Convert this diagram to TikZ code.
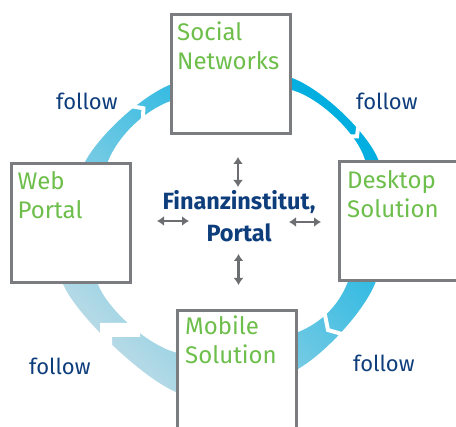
\documentclass[tikz,border=0pt]{standalone}
\usepackage{fontspec}
\setmainfont{Fira Sans}
\usetikzlibrary{arrows.meta}
\definecolor{boxgray}{HTML}{7A7C80}
\definecolor{lblgreen}{HTML}{6DBE4B}
\definecolor{navy}{HTML}{0E3D7C}
\definecolor{ringdark}{HTML}{00AEE0}
\definecolor{ringlight}{HTML}{BFDCE6}
\definecolor{arrgray}{HTML}{6D6E71}
\begin{document}
\begin{tikzpicture}[x=1pt,y=1pt,
  box/.style={draw=boxgray, line width=3pt, fill=white, rectangle, minimum width=119pt, minimum height=119pt, inner sep=0pt, outer sep=0pt},
  boxlabel/.style={anchor=base west, inner sep=0pt, align=left, text=lblgreen, font=\fontsize{24}{29}\selectfont},
  followlbl/.style={anchor=base west, inner sep=0pt, text=navy, font=\fontsize{22}{26}\selectfont},
  centerlbl/.style={anchor=base, inner sep=0pt, align=center, text=navy, font=\fontsize{23.5}{32}\selectfont\bfseries},
  dblarrow/.style={draw=arrgray, line width=2.4pt, {Latex[length=7pt,width=10pt]}-{Latex[length=7pt,width=10pt]}},
  gapline/.style={draw=white, line width=4pt}
]
\useasboundingbox (0,0) rectangle (456,427);
\clip (0,0) rectangle (456,427);

% ring
\begin{scope}[shift={(230,195)}]
\shade[even odd rule, top color=ringdark, bottom color=ringlight, shading angle=-45]
 plot[smooth cycle] coordinates {(154:161) (112:159) (68:166) (26:165) (-19:154) (-64:153) (-108:169) (-163:175)}
 plot[smooth cycle] coordinates {(150:141) (115:144) (66:155) (28:153) (-23:128) (-56:121) (-114:132) (-159:142)};
\draw[gapline] (130:166) -- (125:151) -- (130:136);
\draw[gapline] (41:171) -- (37:159) -- (41:146);
\end{scope}
\draw[gapline] (323,122) -- (328,97) -- (352,90);
\fill[white] (100,60) -- (100,104) -- (140,104) -- (140,90) -- (112,90) -- (112,60) -- cycle;

% boxes
\node[box] (social) at (231,352.75) {};
\node[box] (web) at (70.65,204.15) {};
\node[box] (desktop) at (399.3,206) {};
\node[box] (mobile) at (237.1,56.7) {};

\node[boxlabel] (socialtxt) at (177,357) {Social\\Networks};
\node[boxlabel] (webtxt) at (17.5,208) {Web\\Portal};
\node[boxlabel] (desktoptxt) at (347,209) {Desktop\\Solution};
\node[boxlabel] (mobiletxt) at (185,63) {Mobile\\Solution};

\node[followlbl] (f1) at (56,317) {follow};
\node[followlbl] (f2) at (356,317) {follow};
\node[followlbl] (f3) at (29,52) {follow};
\node[followlbl] (f4) at (353,55) {follow};

\node[centerlbl] (fin) at (239,185) {Finanzinstitut,\\Portal};

\coordinate (ua) at (238,270); \coordinate (ub) at (238,240);
\coordinate (da) at (238.5,173); \coordinate (db) at (238.5,142);
\coordinate (la) at (157,206); \coordinate (lb) at (189,206);
\coordinate (ra) at (289,205); \coordinate (rb) at (321,205);
\draw[dblarrow] (ua) -- (ub);
\draw[dblarrow] (da) -- (db);
\draw[dblarrow] (la) -- (lb);
\draw[dblarrow] (ra) -- (rb);
\end{tikzpicture}
\end{document}
